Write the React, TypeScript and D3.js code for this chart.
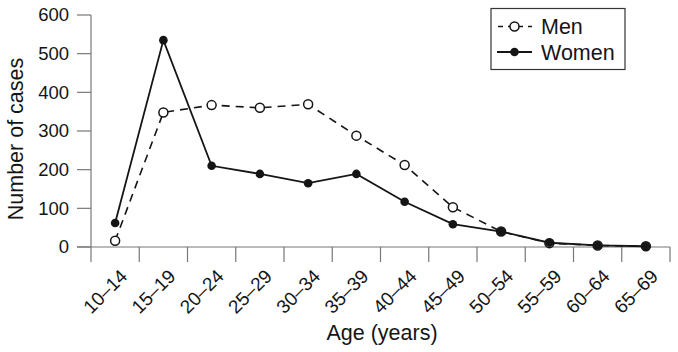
import * as d3 from "d3";

const ageGroups = ["10–14", "15–19", "20–24", "25–29", "30–34", "35–39", "40–44", "45–49", "50–54", "55–59", "60–64", "65–69"];
const menCases = [16, 348, 367, 360, 369, 288, 212, 103, 40, 10, 4, 2];
const womenCases = [62, 535, 210, 189, 165, 189, 117, 59, 40, 11, 4, 2];
const yTicks = [0, 100, 200, 300, 400, 500, 600];

const W = 678;
const H = 352;
const margin = { top: 15, right: 8, bottom: 105, left: 91 };
const font = "'Liberation Sans', Arial, Helvetica, sans-serif";
const axisColor = "#777";
const inkColor = "#151515";

export default function App() {
  const x = d3.scaleBand().domain(ageGroups).range([margin.left, W - margin.right]);
  const y = d3.scaleLinear().domain([0, 600]).range([H - margin.bottom, margin.top]);
  const cx = (g: string) => (x(g) as number) + x.bandwidth() / 2;

  const line = d3.line<number>()
    .x((_, i) => cx(ageGroups[i]))
    .y(d => y(d));

  const baseY = y(0);
  const xEdges = [...ageGroups.map(g => x(g) as number), W - margin.right];

  return (
    <svg width={W} height={H} style={{ position: "absolute", left: 0, top: 0, background: "#fff" }} fontFamily={font}>
      {/* y axis */}
      <line x1={margin.left} x2={margin.left} y1={y(600)} y2={baseY} stroke={axisColor} strokeWidth={1.2} />
      {yTicks.map(t => (
        <g key={t}>
          <line x1={margin.left - 14} x2={margin.left} y1={y(t)} y2={y(t)} stroke={axisColor} strokeWidth={1.2} />
          <text x={margin.left - 22} y={y(t)} dy="0.35em" textAnchor="end" fontSize={18.5} fill={inkColor}>{t}</text>
        </g>
      ))}
      <text transform={`translate(23, ${(y(600) + baseY) / 2 + 8}) rotate(-90)`} textAnchor="middle" fontSize={21.5} fill={inkColor}>Number of cases</text>

      {/* x axis */}
      <line x1={margin.left - 14} x2={W - margin.right} y1={baseY} y2={baseY} stroke={axisColor} strokeWidth={1.2} />
      {xEdges.map((e, i) => (
        <line key={i} x1={e} x2={e} y1={baseY} y2={baseY + 15} stroke={axisColor} strokeWidth={1.2} />
      ))}
      {ageGroups.map(g => (
        <text key={g} transform={`translate(${cx(g) + 4}, ${baseY + 21}) rotate(-45)`} textAnchor="end" dy="0.7em" fontSize={19} fill={inkColor}>{g}</text>
      ))}
      <text x={382} y={340} textAnchor="middle" fontSize={21.5} fill={inkColor}>Age (years)</text>

      {/* men */}
      <path d={line(menCases) ?? ""} fill="none" stroke={inkColor} strokeWidth={1.6} strokeDasharray="8,6" />
      {menCases.map((v, i) => (
        <circle key={i} cx={cx(ageGroups[i])} cy={y(v)} r={4.5} fill="#fff" stroke={inkColor} strokeWidth={1.5} />
      ))}

      {/* women */}
      <path d={line(womenCases) ?? ""} fill="none" stroke={inkColor} strokeWidth={1.8} />
      {womenCases.map((v, i) => (
        <circle key={i} cx={cx(ageGroups[i])} cy={y(v)} r={4.3} fill={inkColor} />
      ))}

      {/* legend */}
      <g>
        <rect x={491} y={8.5} width={134} height={61} fill="#fff" stroke="#333" strokeWidth={1.2} />
        <line x1={497} x2={532} y1={26.5} y2={26.5} stroke={inkColor} strokeWidth={1.6} strokeDasharray="5,5" strokeDashoffset={-1} />
        <circle cx={514.5} cy={26.5} r={4.5} fill="#fff" stroke={inkColor} strokeWidth={1.5} />
        <text x={541} y={26.5} dy="0.36em" fontSize={21.5} fill={inkColor}>Men</text>
        <line x1={497} x2={532} y1={52} y2={52} stroke={inkColor} strokeWidth={1.8} />
        <circle cx={514.5} cy={52} r={4.3} fill={inkColor} />
        <text x={541} y={52} dy="0.36em" fontSize={21.5} fill={inkColor}>Women</text>
      </g>
    </svg>
  );
}
